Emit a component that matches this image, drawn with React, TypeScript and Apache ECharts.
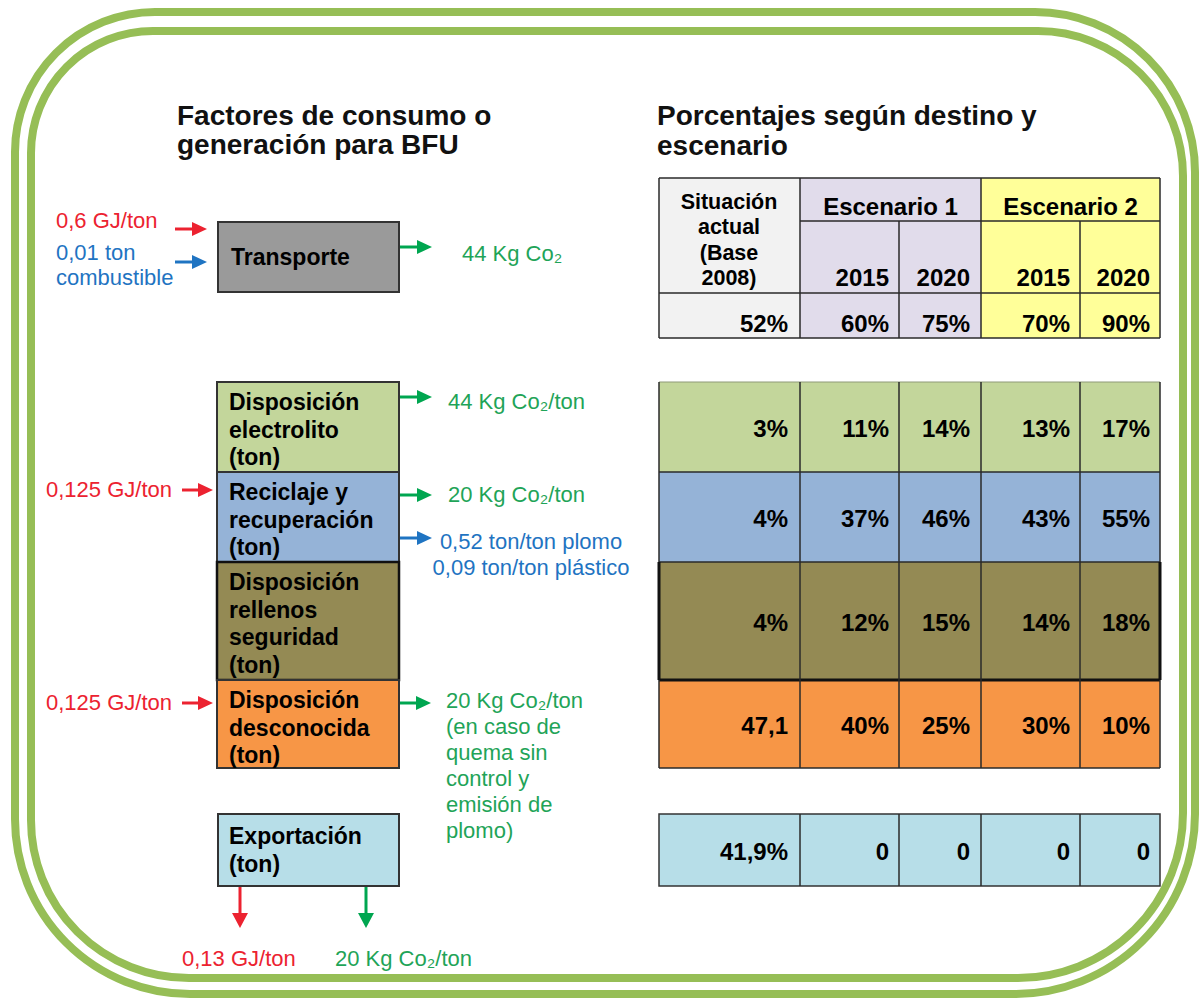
import React, { useEffect, useRef } from "react";
import * as echarts from "echarts";

// ---------- DATA ----------
const leftTitle = ["Factores de consumo o", "generación para BFU"];
const rightTitle = ["Porcentajes según destino y", "escenario"];

const transportLabel = ["Transporte"];
const transportInputs = ["0,6 GJ/ton", "0,01 ton", "combustible"];
const transportOutput = "44 Kg Co₂";

const destinationLabels = [
  ["Disposición", "electrolito", "(ton)"],
  ["Reciclaje y", "recuperación", "(ton)"],
  ["Disposición", "rellenos", "seguridad", "(ton)"],
  ["Disposición", "desconocida", "(ton)"],
];
const exportLabel = ["Exportación", "(ton)"];

const electrolitoOutput = "44 Kg Co₂/ton";
const reciclajeInput = "0,125 GJ/ton";
const reciclajeOutput = "20 Kg Co₂/ton";
const reciclajeProducts = ["0,52 ton/ton plomo", "0,09 ton/ton plástico"];
const desconocidaInput = "0,125 GJ/ton";
const desconocidaOutput = ["20 Kg Co₂/ton", "(en caso de", "quema sin", "control y", "emisión de", "plomo)"];
const exportOutputs = ["0,13 GJ/ton", "20 Kg Co₂/ton"];

const baseHeader = ["Situación", "actual", "(Base", "2008)"];
const scenarioHeaders = ["Escenario 1", "Escenario 2"];
const years = ["2015", "2020", "2015", "2020"];
const transportValues = ["52%", "60%", "75%", "70%", "90%"];

const electrolitoValues = ["3%", "11%", "14%", "13%", "17%"];
const reciclajeValues = ["4%", "37%", "46%", "43%", "55%"];
const rellenosValues = ["4%", "12%", "15%", "14%", "18%"];
const desconocidaValues = ["47,1", "40%", "25%", "30%", "10%"];
const exportValues = ["41,9%", "0", "0", "0", "0"];

// ---------- STYLE / LAYOUT ----------
const FONT = "'Liberation Sans', Arial, Helvetica, sans-serif";
const RED = "#EC2230";
const BLUE = "#1F74C2";
const GREEN_T = "#1FA458";
const GREEN_A = "#00A650";
const BORDER_GREEN = "#96BE56";
const LINE = "#2A2A2A";

const rowColors = ["#C3D69B", "#95B3D7", "#948A54", "#F79646"];
const exportColor = "#B7DEE8";
const transportColor = "#9A9A9A";
const baseColor = "#F2F2F2";
const sc1Color = "#E1DCEB";
const sc2Color = "#FFFF99";

const colX = [659, 800, 899, 981, 1080, 1160];
const valueRight = [788, 889, 970, 1070, 1150];
const boxX0 = 217;
const boxX1 = 399;
const rowY = [382, 472, 562, 680, 768];
const exportY = [814, 886];

function txt(text: string, x: number, y: number, o: any = {}) {
  const align = o.align || "left";
  return {
    type: "text",
    x,
    y,
    silent: true,
    style: {
      text,
      fill: o.fill || "#000",
      fontSize: o.size || 22,
      fontWeight: o.bold ? "bold" : "normal",
      fontFamily: FONT,
      align,
      textAlign: align,
      verticalAlign: "middle",
      textVerticalAlign: "middle",
    },
  };
}

function hArrow(x1: number, x2: number, y: number, color: string) {
  return [
    { type: "line", silent: true, shape: { x1, y1: y, x2: x2 - 12, y2: y }, style: { stroke: color, lineWidth: 3 } },
    {
      type: "polygon",
      silent: true,
      shape: { points: [[x2 - 15, y - 7], [x2, y], [x2 - 15, y + 7]] },
      style: { fill: color },
    },
  ];
}

function vArrow(x: number, y1: number, y2: number, color: string) {
  return [
    { type: "line", silent: true, shape: { x1: x, y1, x2: x, y2: y2 - 12 }, style: { stroke: color, lineWidth: 3 } },
    {
      type: "polygon",
      silent: true,
      shape: { points: [[x - 8, y2 - 15], [x, y2], [x + 8, y2 - 15]] },
      style: { fill: color },
    },
  ];
}

function rect(x: number, y: number, w: number, h: number, fill: string, stroke?: string, lw = 2) {
  return {
    type: "rect",
    silent: true,
    shape: { x, y, width: w, height: h },
    style: { fill, stroke: stroke || "none", lineWidth: stroke ? lw : 0 },
  };
}

function line(x1: number, y1: number, x2: number, y2: number, lw = 1.5, color = LINE) {
  return { type: "line", silent: true, shape: { x1, y1, x2, y2 }, style: { stroke: color, lineWidth: lw } };
}

function buildGraphics() {
  const g: any[] = [];

  // frame
  g.push({
    type: "rect",
    silent: true,
    shape: { x: 15, y: 12, width: 1180, height: 982, r: [140, 160, 180, 175] },
    style: { fill: "none", stroke: BORDER_GREEN, lineWidth: 8 },
  });
  g.push({
    type: "rect",
    silent: true,
    shape: { x: 31, y: 31, width: 1152, height: 947, r: [122, 145, 165, 158] },
    style: { fill: "none", stroke: BORDER_GREEN, lineWidth: 8 },
  });

  // titles
  leftTitle.forEach((t, i) => g.push(txt(t, 177, 115 + i * 29, { size: 28, bold: true, fill: "#111" })));
  rightTitle.forEach((t, i) => g.push(txt(t, 657, 115 + i * 30, { size: 28, bold: true, fill: "#111" })));

  // Transporte box
  g.push(rect(boxX0 + 1, 222, boxX1 - boxX0 - 1, 70, transportColor, "#333", 2));
  g.push(txt(transportLabel[0], 231, 257, { size: 23, bold: true }));
  g.push(txt(transportInputs[0], 56, 220, { fill: RED }));
  g.push(txt(transportInputs[1], 56, 252, { fill: BLUE }));
  g.push(txt(transportInputs[2], 56, 277, { fill: BLUE }));
  g.push(...hArrow(175, 207, 229, RED));
  g.push(...hArrow(175, 207, 262, BLUE));
  g.push(...hArrow(400, 432, 247, GREEN_A));
  g.push(txt(transportOutput, 462, 253, { fill: GREEN_T }));

  // destination boxes
  destinationLabels.forEach((lines, r) => {
    const y0 = rowY[r];
    const y1 = rowY[r + 1];
    g.push(rect(boxX0, y0, boxX1 - boxX0, y1 - y0, rowColors[r], r === 2 ? "#111" : "#333", r === 2 ? 2.5 : 2));
    lines.forEach((t, i) => g.push(txt(t, 229, y0 + 20 + i * 27.5, { size: 23, bold: true })));
  });

  // export box
  g.push(rect(boxX0 + 1, exportY[0], boxX1 - boxX0 - 1, exportY[1] - exportY[0], exportColor, "#333", 2));
  exportLabel.forEach((t, i) => g.push(txt(t, 229, 836 + i * 28, { size: 23, bold: true })));

  // side labels & arrows for destinations
  g.push(...hArrow(400, 432, 397, GREEN_A));
  g.push(txt(electrolitoOutput, 448, 401, { fill: GREEN_T }));

  g.push(...hArrow(182, 213, 490, RED));
  g.push(txt(reciclajeInput, 172, 489, { fill: RED, align: "right" }));
  g.push(...hArrow(400, 432, 495, GREEN_A));
  g.push(txt(reciclajeOutput, 448, 494, { fill: GREEN_T }));
  g.push(...hArrow(400, 432, 538, BLUE));
  reciclajeProducts.forEach((t, i) => g.push(txt(t, 531, 541 + i * 26, { fill: BLUE, align: "center" })));

  g.push(...hArrow(182, 213, 703, RED));
  g.push(txt(desconocidaInput, 172, 702, { fill: RED, align: "right" }));
  g.push(...hArrow(400, 431, 703, GREEN_A));
  desconocidaOutput.forEach((t, i) => g.push(txt(t, 446, 700 + i * 26, { fill: GREEN_T })));

  g.push(...vArrow(240, 887, 928, RED));
  g.push(...vArrow(366, 887, 928, GREEN_A));
  g.push(txt(exportOutputs[0], 182, 958, { fill: RED }));
  g.push(txt(exportOutputs[1], 335, 958, { fill: GREEN_T }));

  // ---- top table ----
  const tTop = 178, tMid = 221, tHead = 293, tBot = 338;
  g.push(rect(colX[0], tTop, colX[1] - colX[0], tBot - tTop, baseColor));
  g.push(rect(colX[1], tTop, colX[3] - colX[1], tBot - tTop, sc1Color));
  g.push(rect(colX[3], tTop, colX[5] - colX[3], tBot - tTop, sc2Color));
  g.push(line(colX[0], tTop, colX[5], tTop));
  g.push(line(colX[1], tMid, colX[5], tMid));
  g.push(line(colX[0], tHead, colX[5], tHead));
  g.push(line(colX[0], tBot, colX[5], tBot));
  [0, 1, 3, 5].forEach((c) => g.push(line(colX[c], tTop, colX[c], tBot)));
  [2, 4].forEach((c) => g.push(line(colX[c], tMid, colX[c], tBot)));
  baseHeader.forEach((t, i) => g.push(txt(t, 729, 201.5 + i * 25.5, { size: 21.5, bold: true, align: "center" })));
  scenarioHeaders.forEach((t, i) =>
    g.push(txt(t, i === 0 ? (colX[1] + colX[3]) / 2 : (colX[3] + colX[5]) / 2, 206, { size: 24, bold: true, align: "center" }))
  );
  years.forEach((t, i) => g.push(txt(t, valueRight[i + 1], 277, { size: 24, bold: true, align: "right" })));
  transportValues.forEach((t, i) => g.push(txt(t, valueRight[i], 323.5, { size: 24, bold: true, align: "right" })));

  // ---- bottom table ----
  const rowsVals = [electrolitoValues, reciclajeValues, rellenosValues, desconocidaValues];
  rowsVals.forEach((vals, r) => {
    const y0 = rowY[r];
    const y1 = rowY[r + 1];
    g.push(rect(colX[0], y0, colX[5] - colX[0], y1 - y0, rowColors[r]));
  });
  g.push(line(colX[0], rowY[0], colX[5], rowY[0], 1, "#8f9a78"));
  g.push(line(colX[0], rowY[1], colX[5], rowY[1], 1.5));
  g.push(line(colX[0], rowY[2], colX[5], rowY[2], 1.5));
  g.push(line(colX[0], rowY[3], colX[5], rowY[3], 3, "#111"));
  g.push(line(colX[0], rowY[4], colX[5], rowY[4], 1.5));
  colX.forEach((x, c) => {
    g.push(line(x, rowY[0], x, rowY[4], 1.5));
    if (c === 0 || c === 5) g.push(line(x, rowY[2], x, rowY[3], 3, "#111"));
  });
  rowsVals.forEach((vals, r) => {
    const yc = (rowY[r] + rowY[r + 1]) / 2 + 1;
    vals.forEach((v, i) => g.push(txt(v, valueRight[i], yc, { size: 24, bold: true, align: "right" })));
  });

  // export row
  g.push(rect(colX[0], exportY[0], colX[5] - colX[0], exportY[1] - exportY[0], exportColor, "#333", 1.5));
  colX.slice(1, 5).forEach((x) => g.push(line(x, exportY[0], x, exportY[1], 1.5)));
  exportValues.forEach((v, i) => g.push(txt(v, valueRight[i], 851, { size: 24, bold: true, align: "right" })));

  return g;
}

export default function App() {
  const ref = useRef<HTMLDivElement>(null);
  useEffect(() => {
    if (!ref.current) return;
    const chart = echarts.init(ref.current, undefined, { renderer: "svg" });
    chart.setOption({
      animation: false,
      backgroundColor: "#ffffff",
      graphic: { elements: buildGraphics() },
    });
    return () => chart.dispose();
  }, []);
  return (
    <div
      ref={ref}
      style={{ position: "absolute", left: 0, top: 0, width: 1199, height: 1001, background: "#fff" }}
    />
  );
}
